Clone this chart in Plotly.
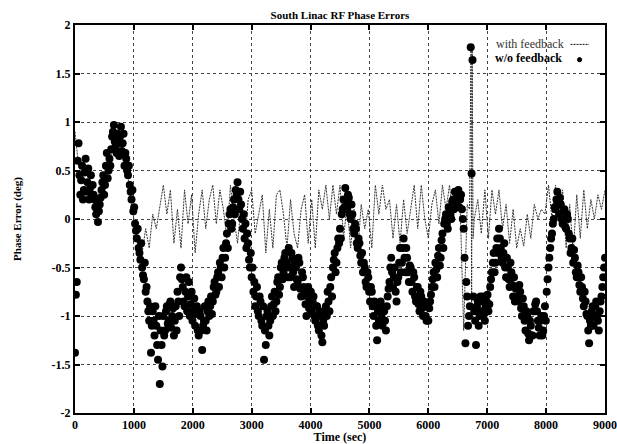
import plotly.graph_objects as go

# ---- w/o feedback: one sample every 15 s (deg) ----
wo_time = list(range(0, 9001, 15))
wo_feedback = [
    -1.38, -0.78, -0.65, 0.6, 0.78, 0.45, 0.25, 0.4, 0.55, 0.2, 0.3, 0.48, 0.62, 0.28, 0.38, 0.52, 0.2, 0.32, 0.45, 0.25,
    0.35, 0.25, 0.2, 0.12, 0.05, 0.18, -0.03, 0.08, 0.15, 0.22, 0.3, 0.38, 0.45, 0.25, 0.35, 0.55, 0.68, 0.42, 0.5, 0.62,
    0.55, 0.72, 0.85, 0.9, 0.97, 0.8, 0.75, 0.68, 0.88, 0.78, 0.65, 0.85, 0.95, 0.7, 0.78, 0.88, 0.55, 0.68, 0.62, 0.5,
    0.45, 0.55, 0.35, 0.28, 0.2, 0.3, 0.08, 0.12, -0.05, -0.12, -0.2, -0.1, -0.3, -0.35, -0.42, -0.25, -0.5, -0.58, -0.62, -0.45,
    -0.75, -0.7, -0.85, -0.95, -1.05, -0.9, -1.38, -1.1, -0.95, -1.05, -1.2, -0.9, -1.1, -1.3, -1.45, -1.0, -1.7, -1.15, -1.3, -1.52,
    -1.0, -1.2, -1.15, -0.95, -0.9, -1.08, -1.05, -0.88, -0.85, -1.12, -1.0, -0.92, -1.2, -1.05, -0.9, -1.15, -0.75, -0.85, -1.0, -0.6,
    -0.5, -0.62, -0.7, -0.85, -0.9, -0.75, -0.6, -0.95, -0.8, -0.65, -1.0, -0.88, -0.75, -1.05, -0.95, -0.82, -1.1, -0.98, -0.9, -1.15,
    -1.2, -0.95, -1.0, -1.15, -1.35, -1.1, -1.05, -0.9, -1.05, -1.15, -0.95, -0.85, -1.0, -0.9, -0.8, -0.98, -0.85, -0.7, -0.65, -0.78,
    -0.75, -0.6, -0.55, -0.7, -0.45, -0.5, -0.6, -0.4, -0.3, -0.5, -0.4, -0.25, -0.15, -0.3, -0.05, 0.05, 0.1, -0.1, -0.05, 0.12,
    0.2, 0.05, 0.3, 0.25, 0.38, 0.2, 0.1, 0.28, 0.15, 0.0, -0.1, 0.05, -0.2, -0.05, -0.3, -0.15, -0.25, -0.42, -0.5, -0.35,
    -0.6, -0.5, -0.75, -0.65, -0.9, -0.8, -0.7, -0.95, -1.0, -0.8, -0.85, -1.05, -1.1, -0.9, -1.45, -1.15, -1.3, -1.0, -0.95, -1.1,
    -1.2, -1.05, -0.9, -0.8, -1.0, -0.88, -0.75, -0.95, -0.85, -0.65, -0.6, -0.78, -0.7, -0.5, -0.45, -0.62, -0.55, -0.4, -0.35, -0.5,
    -0.45, -0.6, -0.3, -0.5, -0.6, -0.35, -0.4, -0.55, -0.7, -0.45, -0.5, -0.62, -0.65, -0.4, -0.45, -0.72, -0.8, -0.55, -0.6, -0.7,
    -0.75, -0.88, -1.0, -0.8, -0.7, -0.92, -0.85, -0.75, -0.95, -0.85, -0.8, -1.0, -1.05, -0.9, -0.9, -1.1, -1.15, -0.95, -1.0, -1.2,
    -1.27, -1.05, -1.1, -0.95, -0.9, -1.0, -0.75, -0.85, -0.95, -0.7, -0.6, -0.8, -0.5, -0.42, -0.35, -0.55, -0.45, -0.3, -0.2, -0.25,
    -0.1, -0.2, 0.05, 0.1, 0.2, 0.12, 0.32, 0.18, 0.1, 0.25, 0.22, 0.05, 0.0, 0.15, 0.05, -0.1, -0.15, -0.05, -0.1, -0.25,
    -0.3, -0.2, -0.25, -0.38, -0.45, -0.35, -0.55, -0.45, -0.5, -0.65, -0.7, -0.55, -0.6, -0.75, -0.85, -0.7, -0.75, -0.9, -1.0, -0.85,
    -0.9, -1.1, -1.25, -0.95, -1.05, -0.88, -0.85, -1.0, -1.1, -0.92, -0.95, -1.05, -1.15, -0.9, -0.8, -0.72, -0.65, -0.5, -0.4, -0.55,
    -0.7, -0.6, -0.5, -0.75, -0.85, -0.65, -0.6, -0.45, -0.3, -0.55, -0.45, -0.3, -0.2, -0.4, -0.55, -0.3, -0.4, -0.55, -0.65, -0.48,
    -0.5, -0.65, -0.75, -0.55, -0.6, -0.8, -0.85, -0.7, -0.7, -0.88, -0.95, -0.75, -0.8, -0.92, -1.0, -0.85, -0.9, -1.0, -1.05, -0.9,
    -1.05, -0.92, -0.85, -0.78, -0.7, -0.62, -0.55, -0.7, -0.45, -0.52, -0.6, -0.38, -0.3, -0.48, -0.4, -0.22, -0.15, -0.3, -0.05, 0.0,
    0.05, -0.05, -0.1, 0.12, 0.1, 0.05, 0.0, 0.18, 0.2, 0.1, 0.28, 0.2, 0.15, 0.25, 0.3, 0.12, 0.2, 0.25, 0.1, 0.0,
    -0.1, -0.4, -1.28, -0.65, -0.8, -1.1, -1.0, -0.9, 1.77, 0.47, 1.64, -0.8, -0.95, -1.05, -1.3, -0.9, -0.85, -1.1, -1.0, -0.8,
    -0.95, -0.85, -0.8, -0.98, -1.05, -0.9, -0.85, -0.78, -0.95, -0.88, -0.7, -0.62, -0.55, -0.45, -0.35, -0.55, -0.45, -0.3, -0.2, -0.35,
    -0.1, -0.2, -0.3, -0.4, -0.45, -0.35, -0.25, -0.5, -0.6, -0.4, -0.5, -0.62, -0.7, -0.45, -0.55, -0.68, -0.8, -0.6, -0.85, -0.72,
    -0.7, -0.8, -0.85, -0.68, -0.75, -0.92, -1.0, -0.82, -0.9, -1.05, -1.15, -0.95, -1.0, -1.18, -1.25, -1.05, -1.1, -1.2, -1.2, -0.95,
    -0.95, -0.88, -0.85, -0.95, -1.05, -1.12, -1.2, -1.05, -1.0, -1.2, -1.15, -1.0, -0.9, -1.05, -0.75, -0.62, -0.5, -0.4, -0.3, -0.2,
    -0.15, -0.05, 0.0, 0.12, 0.1, 0.2, 0.28, 0.15, 0.05, 0.22, 0.15, 0.0, -0.05, 0.08, 0.1, -0.08, -0.1, 0.05, 0.0, -0.15,
    -0.2, -0.35, -0.3, -0.2, -0.45, -0.32, -0.4, -0.55, -0.6, -0.48, -0.55, -0.68, -0.75, -0.6, -0.7, -0.82, -0.9, -0.75, -0.85, -0.98,
    -1.0, -1.15, -1.28, -1.05, -1.1, -0.95, -0.9, -1.1, -1.0, -0.9, -0.85, -1.0, -1.05, -1.15, -0.95, -0.85, -0.8, -0.7, -0.6, -0.5,
    -0.4,
]

# ---- with feedback: every 60 s, denser around the 6730 s glitch (deg) ----
fb_time = list(range(0, 6661, 60)) + [6700, 6725, 6735, 6745, 6760] + list(range(6780, 9001, 60))
with_feedback = [
    0.9, 0.55, 0.45, 0.35, 0.3, 0.3, 0.05, 0.3, 0.4, 0.55,
    0.6, 0.85, 0.8, 0.85, 0.6, 0.45, 0.15, -0.1, -0.3, -0.35,
    -0.1, -0.3, 0.05, -0.1, 0.15, 0.35, 0.05, 0.3, -0.25, 0.1,
    -0.3, 0.3, -0.05, 0.25, -0.35, 0.05, 0.3, -0.1, 0.2, 0.35,
    -0.05, 0.3, 0.1, -0.2, 0.35, 0.0, -0.25, 0.15, -0.3, 0.2,
    0.3, -0.15, 0.05, 0.25, -0.35, 0.1, -0.3, 0.25, 0.3, 0.05,
    -0.3, 0.2, -0.15, -0.3, 0.1, 0.25, -0.25, 0.2, -0.3, 0.3,
    0.1, 0.35, 0.0, 0.35, 0.05, 0.35, -0.2, 0.15, -0.3, 0.1,
    -0.35, 0.15, -0.1, 0.1, -0.3, 0.35, 0.05, 0.35, 0.1, 0.2,
    -0.2, 0.15, -0.25, 0.2, -0.15, 0.1, 0.35, -0.1, 0.35, 0.0,
    -0.2, 0.15, 0.3, -0.05, 0.35, 0.1, 0.35, 0.0, 0.3, 0.15,
    -1.15, 0.15,
    0.1, 1.8, -1.0, 1.75, -0.2,
    0.0, 0.2, -0.15, 0.3, -0.2, 0.3, 0.05, 0.3, -0.1, 0.15,
    -0.25, 0.1, -0.3, -0.1, -0.28, 0.05, -0.2, 0.15, 0.0, 0.1,
    0.05, 0.35, 0.0, 0.35, 0.05, 0.3, -0.3, 0.15, -0.35, 0.25,
    -0.2, 0.3, -0.1, 0.2, 0.0, 0.25, 0.1, 0.3,
]

x_ticks = [0, 1000, 2000, 3000, 4000, 5000, 6000, 7000, 8000, 9000]
y_ticks = [-2, -1.5, -1, -0.5, 0, 0.5, 1, 1.5, 2]
y_tick_labels = ["-2", "-1.5", "-1", "-0.5", "0", "0.5", "1", "1.5", "2"]

assert len(wo_time) == len(wo_feedback), (len(wo_time), len(wo_feedback))
assert len(fb_time) == len(with_feedback), (len(fb_time), len(with_feedback))

SERIF = "Liberation Serif, Times New Roman, serif"

fig = go.Figure()
fig.add_trace(go.Scatter(
    x=fb_time, y=with_feedback, mode="lines", name="with feedback",
    line=dict(color="#333333", width=1, dash="2px,1px"),
))
fig.add_trace(go.Scatter(
    x=wo_time, y=wo_feedback, mode="markers", name="w/o feedback",
    marker=dict(symbol="circle", size=8, color="black", line=dict(width=0)),
))

axis_common = dict(
    showline=True, linecolor="black", linewidth=2, mirror="ticks",
    ticks="inside", ticklen=5, tickcolor="black", tickwidth=1.5,
    showgrid=True, gridcolor="#444444", gridwidth=1, griddash="dot",
    zeroline=False, automargin=False,
    tickfont=dict(family=SERIF, size=12, color="black", weight="bold"),
)

fig.update_xaxes(range=[0, 9000], tickvals=x_ticks, **axis_common,
                 title=dict(text="Time (sec)", standoff=2,
                            font=dict(family=SERIF, size=12, color="black", weight="bold")))
fig.update_yaxes(range=[-2, 2], tickvals=y_ticks, ticktext=y_tick_labels, **axis_common,
                 title=dict(text="Phase Error (deg)", standoff=28,
                            font=dict(family=SERIF, size=11, color="black", weight="bold")))

fig.update_layout(
    width=617, height=444,
    margin=dict(l=75, r=12, t=25, b=31),
    paper_bgcolor="white", plot_bgcolor="white",
    showlegend=False,
    title=dict(text="South Linac RF Phase Errors", x=0.551, xanchor="center",
               y=0.966, yanchor="middle",
               font=dict(family=SERIF, size=11, color="black", weight="bold")),
    annotations=[
        dict(text="with feedback", xref="paper", yref="paper", x=0.926, y=0.95,
             xanchor="right", yanchor="middle", showarrow=False,
             font=dict(family=SERIF, size=12, color="#333333")),
        dict(text="w/o feedback", xref="paper", yref="paper", x=0.922, y=0.915,
             xanchor="right", yanchor="middle", showarrow=False,
             font=dict(family=SERIF, size=12, color="black", weight="bold")),
    ],
    shapes=[
        dict(type="line", xref="paper", yref="paper", x0=0.935, x1=0.97, y0=0.95, y1=0.95,
             line=dict(color="#111111", width=1, dash="2px,1px")),
        dict(type="circle", xref="paper", yref="paper", x0=0.948, x1=0.956, y0=0.905, y1=0.916,
             fillcolor="black", line=dict(color="black", width=1)),
    ],
)

fig.write_html("out.html", config={"displayModeBar": False},
               post_script="document.body.style.margin='0';document.body.style.overflow='hidden';")
